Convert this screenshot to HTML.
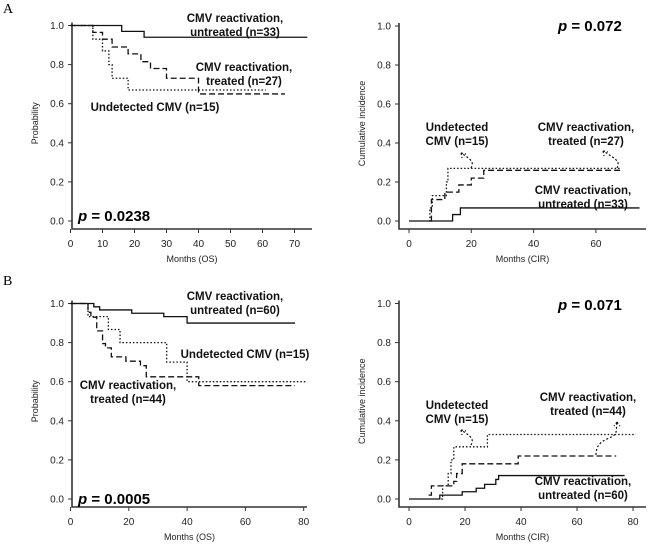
<!DOCTYPE html>
<html><head><meta charset="utf-8">
<style>
body{margin:0;background:#fff;}
svg{display:block;font-family:"Liberation Sans",sans-serif;}
.tick{font-size:10px;fill:#222;}
.ttl{font-size:9px;fill:#222;}
.lab{font-size:11.5px;font-weight:bold;fill:#111;}
.pv{font-size:15px;font-weight:bold;fill:#000;}
</style></head>
<body>
<svg id="fig" width="650" height="548" viewBox="0 0 650 548">
<text x="3" y="13" font-family="Liberation Serif" font-size="14">A</text>
<text x="3" y="285" font-family="Liberation Serif" font-size="14">B</text>
</svg>
<script>
// Panel A-left (OS)
const aOsUntreatedX=[0,16,23,74], aOsUntreatedY=[1.0,0.97,0.94,0.94];
const aOsTreatedX=[0,7,10,13,18,22,25,30,40,67], aOsTreatedY=[1.0,0.965,0.93,0.89,0.855,0.815,0.78,0.73,0.65,0.65];
const aOsUndetX=[0,7,10,12,13,18,61], aOsUndetY=[1.0,0.93,0.87,0.80,0.73,0.67,0.67];
const aOsXTicks=[0,10,20,30,40,50,60,70];
// Panel A-right (CIR)
const aCirUntreatedX=[0,14,16.5,74], aCirUntreatedY=[0,0.033,0.067,0.067];
const aCirTreatedX=[7,7.2,11.5,16,20,24,68], aCirTreatedY=[0,0.11,0.148,0.185,0.22,0.26,0.26];
const aCirUndetX=[6.5,6.7,7.5,12,12.5,68], aCirUndetY=[0,0.067,0.13,0.2,0.27,0.27];
const aCirXTicks=[0,20,40,60];
// Panel B-left (OS)
const bOsUntreatedX=[0,8,10,21,32,40,77], bOsUntreatedY=[1.0,0.983,0.967,0.95,0.933,0.9,0.9];
const bOsTreatedX=[0,6,7,9,11,12,14,19,24,26,44,77], bOsTreatedY=[1.0,0.955,0.93,0.86,0.795,0.773,0.727,0.705,0.682,0.625,0.58,0.58];
const bOsUndetX=[0,6,13,17,33,40,81], bOsUndetY=[1.0,0.933,0.867,0.8,0.7,0.6,0.6];
const bOsXTicks=[0,20,40,60,80];
// Panel B-right (CIR)
const bCirUntreatedX=[0,11,19,24,27,31,32,77], bCirUntreatedY=[0,0.02,0.037,0.055,0.075,0.1,0.12,0.12];
const bCirTreatedX=[7,8,12,16,17,19,39,74], bCirTreatedY=[0.02,0.067,0.067,0.09,0.13,0.18,0.22,0.22];
const bCirUndetX=[11.5,12,14,15,16,28,81], bCirUndetY=[0,0.067,0.13,0.2,0.267,0.33,0.33];
const bCirXTicks=[0,20,40,60,80];
const yTicks=[0,0.2,0.4,0.6,0.8,1.0];

const NS="http://www.w3.org/2000/svg";
const svg=document.getElementById('fig');
function mk(tag,attrs,parent,text){const e=document.createElementNS(NS,tag);for(const k in attrs)e.setAttribute(k,attrs[k]);if(text!==undefined)e.textContent=text;(parent||svg).appendChild(e);return e;}

function panel(cfg){
  const g=mk('g',{});
  
  
  const sx=v=>cfg.x0+(v-0)*cfg.pxPer;
  const sy=v=>cfg.y0-(v)*(cfg.y0-cfg.y1);
  const ax=mk('path',{d:`M${cfg.ax},${cfg.y1-3} L${cfg.ax},${cfg.axY} L${cfg.axR},${cfg.axY}`,fill:'none',stroke:'#333','stroke-width':1.6},g);
  
  
  yTicks.forEach(t=>{
    mk('line',{x1:cfg.ax-4,x2:cfg.ax,y1:sy(t),y2:sy(t),stroke:'#333'},g);
    const tl=mk('text',{x:cfg.ax-8,y:sy(t)+3.5,'text-anchor':'end',class:'tick'},g,t.toFixed(1));
    
    
  });
  cfg.xTicks.forEach(t=>{
    mk('line',{x1:sx(t),x2:sx(t),y1:cfg.axY,y2:cfg.axY+4,stroke:'#333'},g);
    const tl=mk('text',{x:sx(t),y:cfg.axY+18,'text-anchor':'middle',class:'tick'},g,String(t));
    
    
  });
  const xt=mk('text',{x:(cfg.ax+cfg.axR)/2,y:cfg.axY+33,'text-anchor':'middle',class:'ttl'},g,cfg.xTitle);
  
  
  const cy=(cfg.y0+cfg.y1)/2;
  const yt=mk('text',{x:cfg.ax-34,y:cy,'text-anchor':'middle',class:'ttl',transform:`rotate(-90 ${cfg.ax-34} ${cy})`},g,cfg.yTitle);
  
  
  cfg.series.forEach(s=>{
    let d=`M${sx(s.x[0])},${sy(s.y[0])}`;
    for(let i=1;i<s.x.length;i++){d+=` L${sx(s.x[i])},${sy(s.y[i-1])} L${sx(s.x[i])},${sy(s.y[i])}`;}
    const p=mk('path',{d:d,fill:'none',stroke:'#111','stroke-width':s.w||1.3,'stroke-dasharray':s.dash||'none'},g);
    
    
  });
  cfg.labels.forEach(l=>{
    const t=mk('text',{x:l.x,y:l.y,'text-anchor':'middle',class:'lab'},g);
    
    
    l.lines.forEach((ln,i)=>{mk('tspan',{x:l.x,dy:i?14:0},t,ln);});
  });
  const pv=mk('text',{x:cfg.p[0],y:cfg.p[1],class:'pv'},g);
  
  
  mk('tspan',{'font-style':'italic'},pv,'p');
  mk('tspan',{},pv,' =  '+cfg.p[2]);
  (cfg.arrows||[]).forEach(a=>{
    const ar=mk('path',{d:a,fill:'none',stroke:'#111','stroke-width':1.2,'stroke-dasharray':'2,2'},g);
    
    
  });
}
const SOL='none',DSH='6,3',DOT='1.5,2';
panel({name:'panel-a-os',x0:70.5,pxPer:3.2,y0:221,y1:25.5,ax:72,axY:229,axR:312,xTicks:aOsXTicks,
  xTitle:'Months (OS)',yTitle:'Probability',p:[78,221,'0.0238'],
  series:[{name:'untreated-line',x:aOsUntreatedX,y:aOsUntreatedY,dash:SOL},{name:'treated-line',x:aOsTreatedX,y:aOsTreatedY,dash:DSH},{name:'undetected-line',x:aOsUndetX,y:aOsUndetY,dash:DOT}],
  labels:[{x:235,y:22,lines:['CMV reactivation,','untreated (n=33)']},{x:244,y:71,lines:['CMV reactivation,','treated (n=27)']},{x:155,y:111,lines:['Undetected  CMV (n=15)']}]});
panel({name:'panel-a-cir',x0:409,pxPer:3.115,y0:221,y1:26,ax:399,axY:229,axR:646,xTicks:aCirXTicks,
  xTitle:'Months (CIR)',yTitle:'Cumulative incidence',p:[558,31,'0.072'],
  series:[{name:'untreated-line',x:aCirUntreatedX,y:aCirUntreatedY,dash:SOL},{name:'treated-line',x:aCirTreatedX,y:aCirTreatedY,dash:DSH},{name:'undetected-line',x:aCirUndetX,y:aCirUndetY,dash:DOT}],
  labels:[{x:457,y:131,lines:['Undetected','CMV (n=15)']},{x:586,y:131,lines:['CMV reactivation,','treated (n=27)']},{x:583,y:194,lines:['CMV reactivation,','untreated (n=33)']}],
  arrows:['M471,168 C474,162 472,160 461,153 M461,153 l1,5 M461,153 l5,1','M617,168 C620,162 618,160 603,151 M603,151 l1,5 M603,151 l5,1']});
panel({name:'panel-b-os',x0:70.5,pxPer:2.915,y0:499,y1:303.5,ax:72,axY:507,axR:307,xTicks:bOsXTicks,
  xTitle:'Months (OS)',yTitle:'Probability',p:[78,504,'0.0005'],
  series:[{name:'untreated-line',x:bOsUntreatedX,y:bOsUntreatedY,dash:SOL},{name:'treated-line',x:bOsTreatedX,y:bOsTreatedY,dash:DSH},{name:'undetected-line',x:bOsUndetX,y:bOsUndetY,dash:DOT}],
  labels:[{x:235,y:300,lines:['CMV reactivation,','untreated (n=60)']},{x:245,y:358,lines:['Undetected CMV (n=15)']},{x:128,y:389,lines:['CMV reactivation,','treated (n=44)']}]});
panel({name:'panel-b-cir',x0:409,pxPer:2.8,y0:499,y1:303.5,ax:399,axY:507,axR:646,xTicks:bCirXTicks,
  xTitle:'Months (CIR)',yTitle:'Cumulative incidence',p:[558,310,'0.071'],
  series:[{name:'untreated-line',x:bCirUntreatedX,y:bCirUntreatedY,dash:SOL},{name:'treated-line',x:bCirTreatedX,y:bCirTreatedY,dash:DSH},{name:'undetected-line',x:bCirUndetX,y:bCirUndetY,dash:DOT}],
  labels:[{x:457,y:409,lines:['Undetected','CMV (n=15)']},{x:588,y:401,lines:['CMV reactivation,','treated (n=44)']},{x:583,y:485,lines:['CMV reactivation,','untreated (n=60)']}],
  arrows:['M471,445 C474,439 472,437 461,430 M461,430 l1,5 M461,430 l5,1','M596,455 C596,438 612,440 616,433 L617,422 M617,422 l-3,4 M617,422 l3,4']});
</script>
</body></html>
